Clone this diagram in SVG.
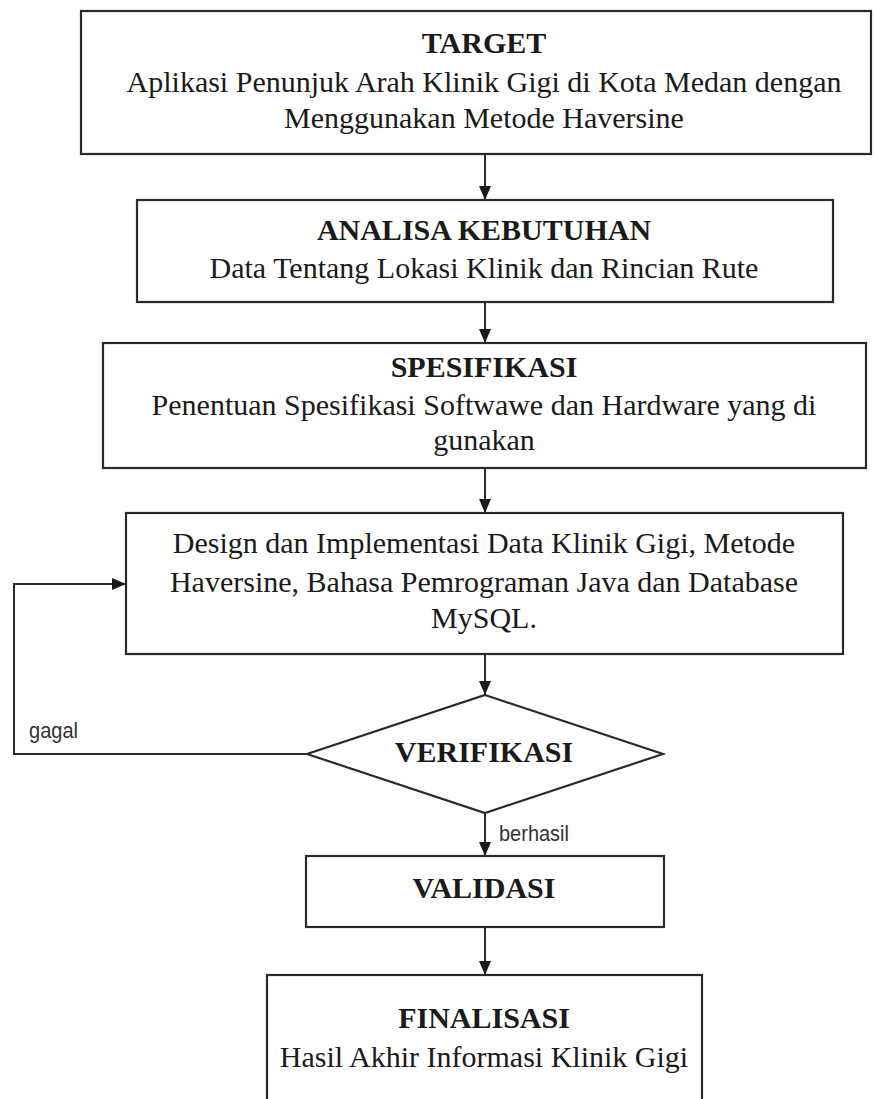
<svg xmlns="http://www.w3.org/2000/svg" width="875" height="1099" viewBox="0 0 875 1099">
<style>
.box{fill:#fff;stroke:#2a2a2a;stroke-width:2.2}
.ln{fill:none;stroke:#2a2a2a;stroke-width:2}
.t{font-family:"Liberation Serif","Times New Roman",serif;font-size:30px;fill:#1a1a1a;text-anchor:middle}
.b{font-weight:bold}
.s{font-family:"Liberation Sans",Arial,sans-serif;font-size:22px;fill:#333}
</style>
<defs>
<marker id="ah" markerUnits="userSpaceOnUse" markerWidth="14" markerHeight="12" refX="14" refY="6" orient="auto">
<path d="M0,0 L14,6 L0,12 Z" fill="#1a1a1a"/>
</marker>
</defs>
<rect width="875" height="1099" fill="#fff"/>
<g id="connectors">
<path class="ln" d="M485,154 V200" marker-end="url(#ah)"/>
<path class="ln" d="M485,302 V343" marker-end="url(#ah)"/>
<path class="ln" d="M485,468 V513" marker-end="url(#ah)"/>
<path class="ln" d="M485,654 V695" marker-end="url(#ah)"/>
<path class="ln" d="M485,813 V856" marker-end="url(#ah)"/>
<path class="ln" d="M485,927 V975" marker-end="url(#ah)"/>
<path class="ln" d="M307,754 H14 V584 H126" marker-end="url(#ah)"/>
<text class="s" x="29" y="738" textLength="49" lengthAdjust="spacingAndGlyphs">gagal</text>
<text class="s" x="499" y="841" textLength="70" lengthAdjust="spacingAndGlyphs">berhasil</text>
</g>
<g id="target">
<rect class="box" x="81" y="11" width="790" height="143"/>
<text class="t b" x="484" y="53">TARGET</text>
<text class="t" x="484" y="92">Aplikasi Penunjuk Arah Klinik Gigi di Kota Medan dengan</text>
<text class="t" x="484" y="128">Menggunakan Metode Haversine</text>
</g>
<g id="analisa">
<rect class="box" x="137" y="200" width="696" height="102"/>
<text class="t b" x="484" y="240">ANALISA KEBUTUHAN</text>
<text class="t" x="484" y="278">Data Tentang Lokasi Klinik dan Rincian Rute</text>
</g>
<g id="spesifikasi">
<rect class="box" x="103" y="343" width="763" height="125"/>
<text class="t b" x="484" y="377">SPESIFIKASI</text>
<text class="t" x="484" y="415">Penentuan Spesifikasi Softwawe dan Hardware yang di</text>
<text class="t" x="484" y="450">gunakan</text>
</g>
<g id="design">
<rect class="box" x="126" y="513" width="717" height="141"/>
<text class="t" x="484" y="553">Design dan Implementasi Data Klinik Gigi, Metode</text>
<text class="t" x="484" y="592">Haversine, Bahasa Pemrograman Java dan Database</text>
<text class="t" x="484" y="628">MySQL.</text>
</g>
<g id="verifikasi">
<polygon class="box" points="485,695 663,754 485,813 307,754"/>
<text class="t b" x="484" y="762">VERIFIKASI</text>
</g>
<g id="validasi">
<rect class="box" x="306" y="856" width="358" height="71"/>
<text class="t b" x="484" y="898">VALIDASI</text>
</g>
<g id="finalisasi">
<rect class="box" x="267" y="975" width="435" height="140"/>
<text class="t b" x="484" y="1028">FINALISASI</text>
<text class="t" x="484" y="1067">Hasil Akhir Informasi Klinik Gigi</text>
</g>
</svg>
